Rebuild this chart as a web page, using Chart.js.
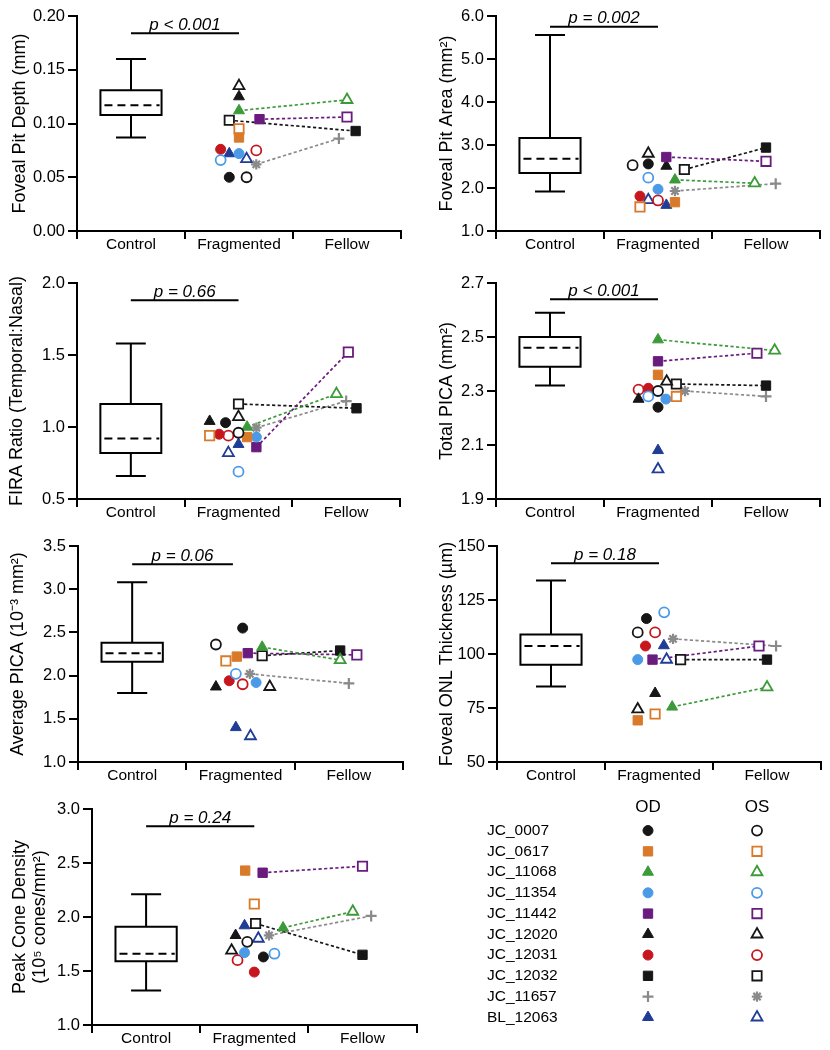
<!DOCTYPE html>
<html><head><meta charset="utf-8">
<script src="https://cdn.jsdelivr.net/npm/chart.js@4.4.1/dist/chart.umd.min.js"></script>
<style>
html,body{margin:0;padding:0;background:#fff;}
#wrap{position:relative;width:830px;height:1050px;overflow:hidden;background:#fff;}
canvas{position:absolute;}
</style></head><body><div id="wrap"></div>
<script>
// ---------- shared data ----------
const categories = ['Control', 'Fragmented', 'Fellow'];
const subjects = ['JC_0007','JC_0617','JC_11068','JC_11354','JC_11442','JC_12020','JC_12031','JC_12032','JC_11657','BL_12063'];
const eyeLabels = ['OD', 'OS'];
const fellowEye = ['', '', 'OS', '', 'OS', '', '', 'OD', 'OD', ''];

// ---------- Foveal Pit Depth ----------
const depthTicks = [0.00, 0.05, 0.10, 0.15, 0.20];
const depthControl = [0.087, 0.108, 0.117, 0.131, 0.160]; // min, q1, median, q3, max
const depthOD = [0.050, 0.087, 0.112, 0.072, 0.104, 0.125, 0.076, 0.093, 0.086, 0.072];
const depthOS = [0.050, 0.095, 0.122, 0.066, 0.106, 0.135, 0.075, 0.103, 0.062, 0.067];
const depthODJitter = [-0.09, 0, 0, 0, 0.19, 0, -0.17, 0.08, -0.075, -0.09];
const depthOSJitter = [0.07, 0, 0, -0.17, 0, 0, 0.16, -0.09, 0.16, 0.07];
const depthP = ['p < 0.001', 0.184, 0, 1];

// ---------- Foveal Pit Area ----------
const areaTicks = [1.0, 2.0, 3.0, 4.0, 5.0, 6.0];
const areaControl = [1.92, 2.35, 2.68, 3.16, 5.56];
const areaOD = [2.56, 1.67, 2.19, 1.97, 2.72, 2.51, 1.81, 2.94, 2.10, 1.60];
const areaOS = [2.53, 1.56, 2.11, 2.24, 2.62, 2.80, 1.71, 2.43, 1.93, 1.72];
const areaODJitter = [-0.09, 0.157, 0.157, 0, 0.077, 0.077, -0.167, 0, 0.09, 0.077];
const areaOSJitter = [-0.235, -0.167, -0.105, -0.09, 0, -0.09, 0, 0.244, 0.157, -0.09];
const areaP = ['p = 0.002', 5.75, 0, 1];

// ---------- FIRA Ratio ----------
const firaTicks = [0.5, 1.0, 1.5, 2.0];
const firaControl = [0.66, 0.82, 0.92, 1.16, 1.58];
const firaOD = [1.03, 0.93, 1.00, 0.93, 0.86, 1.04, 0.95, 1.13, 1.18, 0.88];
const firaOS = [0.96, 0.94, 1.23, 0.69, 1.52, 1.07, 0.94, 1.16, 0.995, 0.82];
const firaODJitter = [-0.12, 0.08, 0.08, 0.166, 0.166, -0.268, -0.18, 0.096, 0, 0];
const firaOSJitter = [0, -0.268, -0.09, 0, 0.02, 0, -0.094, 0, 0.166, -0.094];
const firaP = ['p = 0.66', 1.88, 0, 1];

// ---------- Total PICA ----------
const totalTicks = [1.9, 2.1, 2.3, 2.5, 2.7];
const totalControl = [2.32, 2.39, 2.46, 2.50, 2.59];
const totalOD = [2.24, 2.36, 2.49, 2.27, 2.41, 2.27, 2.31, 2.32, 2.28, 2.08];
const totalOS = [2.30, 2.28, 2.45, 2.28, 2.44, 2.335, 2.305, 2.326, 2.30, 2.01];
const totalODJitter = [0, 0, 0, 0.073, 0, -0.18, -0.09, 0, 0, 0];
const totalOSJitter = [0, 0.17, 0.08, -0.09, -0.084, 0.08, -0.18, 0.17, 0.25, 0];
const totalP = ['p < 0.001', 2.64, 0, 1];

// ---------- Average PICA ----------
const avgTicks = [1.0, 1.5, 2.0, 2.5, 3.0, 3.5];
const avgControl = [1.80, 2.16, 2.26, 2.38, 3.08];
const avgOD = [2.55, 2.22, 2.33, 1.92, 2.26, 1.87, 1.94, 2.29, 1.91, 1.40];
const avgOS = [2.36, 2.17, 2.18, 2.02, 2.24, 1.87, 1.90, 2.23, 2.02, 1.30];
const avgODJitter = [0.02, -0.034, 0.2, 0.144, 0.067, -0.227, -0.104, -0.08, 0, -0.043];
const avgOSJitter = [-0.227, -0.135, -0.08, -0.043, 0.074, 0.27, 0.02, 0.2, 0.086, 0.092];
const avgP = ['p = 0.06', 3.29, 0, 0.93];

// ---------- Foveal ONL Thickness ----------
const onlTicks = [50, 75, 100, 125, 150];
const onlControl = [85, 95, 103.7, 109, 134];
const onlOD = [116.4, 69.3, 75.5, 97.4, 97.4, 81.8, 103.7, 97.4, 103.7, 103.9];
const onlOS = [110, 72.2, 84.6, 119.3, 103.7, 74.4, 110, 97.4, 107, 97.4];
const onlODJitter = [-0.116, -0.197, 0.122, -0.197, -0.06, -0.036, -0.125, 0, 0.084, 0.045];
const onlOSJitter = [-0.197, -0.036, 0, 0.048, -0.074, -0.197, -0.036, 0.2, 0.13, 0.07];
const onlP = ['p = 0.18', 142, 0, 1];

// ---------- Peak Cone Density ----------
const coneTicks = [1.0, 1.5, 2.0, 2.5, 3.0];
const coneControl = [1.32, 1.59, 1.66, 1.91, 2.21];
const coneOD = [1.63, 2.43, 1.90, 1.67, 2.41, 1.83, 1.49, 1.65, 2.01, 1.92];
const coneOS = [1.77, 2.12, 2.05, 1.66, 2.47, 1.69, 1.60, 1.94, 1.83, 1.80];
const coneODJitter = [0.084, -0.084, 0.266, -0.09, 0.077, -0.173, 0, 0, 0.08, -0.09];
const coneOSJitter = [-0.065, 0, -0.09, 0.186, 0, -0.21, -0.155, 0.012, 0.136, 0.037];
const coneP = ['p = 0.24', 2.84, 0, 1];

// ---------- styles ----------
const subjectColors = ['#161616','#D97A2B','#3C9A38','#4B9AE8','#6A1B7E','#161616','#C7171E','#161616','#8A8A8A','#1F3C96'];
const odStyles = ['circle','rect','triangle','circle','rect','triangle','circle','rect','cross','triangle'];
const osStyles = ['circle','rect','triangle','circle','rect','triangle','circle','rect','star','triangle'];
const styleRadius = {circle: 5, rect: 6.6, triangle: 6.3, cross: 5.5, star: 5.2};

Chart.defaults.font.family = '"Liberation Sans", Arial, Helvetica, sans-serif';
Chart.defaults.color = '#000';

function marker(i, eye) {
  const st = eye === 'OD' ? odStyles[i] : osStyles[i];
  const col = subjectColors[i];
  const filled = eye === 'OD' && st !== 'cross';
  const lineLike = st === 'cross' || st === 'star';
  return {
    pointStyle: st,
    pointRadius: styleRadius[st],
    pointBackgroundColor: filled ? col : '#ffffff',
    pointBorderColor: col,
    pointBorderWidth: filled ? 1 : (lineLike ? 2.2 : 1.8),
    pointHoverRadius: styleRadius[st]
  };
}

const boxSigPlugin = {
  id: 'boxsig',
  beforeDatasetsDraw(chart, args, opts) {
    if (!opts || !opts.box) return;
    const ctx = chart.ctx, xs = chart.scales.x, ys = chart.scales.y;
    const [mn, q1, med, q3, mx] = opts.box;
    const cx = xs.getPixelForValue(0);
    const hb = xs.getPixelForValue(0.283) - cx;
    const hc = xs.getPixelForValue(0.139) - cx;
    const Y = v => ys.getPixelForValue(v);
    ctx.save();
    ctx.strokeStyle = '#000';
    ctx.lineWidth = 2;
    ctx.beginPath();
    ctx.rect(cx - hb, Y(q3), 2 * hb, Y(q1) - Y(q3));
    ctx.moveTo(cx, Y(q3)); ctx.lineTo(cx, Y(mx));
    ctx.moveTo(cx - hc, Y(mx)); ctx.lineTo(cx + hc, Y(mx));
    ctx.moveTo(cx, Y(q1)); ctx.lineTo(cx, Y(mn));
    ctx.moveTo(cx - hc, Y(mn)); ctx.lineTo(cx + hc, Y(mn));
    ctx.stroke();
    ctx.beginPath();
    ctx.setLineDash([8, 5]);
    ctx.moveTo(cx - hb + 4, Y(med)); ctx.lineTo(cx + hb - 2, Y(med));
    ctx.stroke();
    ctx.setLineDash([]);
    // significance bar
    const [txt, pv, x0, x1] = opts.sig;
    const px0 = xs.getPixelForValue(x0), px1 = xs.getPixelForValue(x1), py = Y(pv);
    ctx.beginPath();
    ctx.moveTo(px0, py); ctx.lineTo(px1, py);
    ctx.stroke();
    ctx.fillStyle = '#000';
    ctx.font = 'italic 17px "Liberation Sans", Arial, sans-serif';
    ctx.textAlign = 'center';
    ctx.textBaseline = 'alphabetic';
    ctx.fillText(txt, (px0 + px1) / 2, py - 3.5);
    ctx.restore();
  }
};
Chart.register(boxSigPlugin);

const wrap = document.getElementById('wrap');
function addCanvas(l, t, w, h) {
  const c = document.createElement('canvas');
  c.width = w; c.height = h;
  c.style.left = l + 'px'; c.style.top = t + 'px';
  c.style.width = w + 'px'; c.style.height = h + 'px';
  wrap.appendChild(c);
  return c;
}

function makePanel(p) {
  const c = addCanvas(p.left, p.top, p.w, p.h);
  const datasets = [];
  const pt = (i, eye) => {
    const vals = eye === 'OD' ? p.od : p.os;
    const jit = eye === 'OD' ? p.odJ : p.osJ;
    const base = fellowEye[i] === eye ? 2 : 1;
    return {x: base + jit[i], y: vals[i]};
  };
  subjects.forEach((s, i) => {
    eyeLabels.forEach(eye => {
      datasets.push(Object.assign({label: s + ' ' + eye, data: [pt(i, eye)], order: 0}, marker(i, eye)));
    });
    if (fellowEye[i]) {
      const fe = fellowEye[i], ge = fe === 'OD' ? 'OS' : 'OD';
      datasets.push({label: s + ' pair', data: [pt(i, ge), pt(i, fe)], showLine: true,
        borderColor: subjectColors[i], borderWidth: 1.7, borderDash: [3.2, 2.4],
        pointRadius: 0, pointHoverRadius: 0, order: 1});
    }
  });
  const ticks = p.ticks;
  new Chart(c, {
    type: 'scatter',
    data: {labels: categories, datasets},
    options: {
      responsive: false, animation: false, devicePixelRatio: 1, events: [],
      layout: {padding: {left: 0, top: p.padTop, right: p.padRight, bottom: 0}},
      plugins: {legend: {display: false}, tooltip: {enabled: false},
        boxsig: {box: p.box, sig: p.sig}},
      scales: {
        x: {type: 'linear', display: false, min: -0.5, max: 2.5},
        xc: {type: 'category', axis: 'x', position: 'bottom', labels: categories, offset: true,
          grid: {offset: true, drawOnChartArea: false, drawTicks: true, tickLength: 8, color: '#000', lineWidth: 2},
          border: {display: true, color: '#000', width: 2},
          ticks: {font: {size: 15.5}, color: '#000', padding: -4, maxRotation: 0, autoSkip: false},
          afterFit(s) { s.height = p.xh; }},
        y: {type: 'linear', position: 'left', min: ticks[0], max: ticks[ticks.length - 1],
          afterBuildTicks(s) { s.ticks = ticks.map(v => ({value: v})); },
          ticks: {font: {size: 16.5}, color: '#000', padding: 3, callback: v => Number(v).toFixed(p.dec)},
          grid: {drawOnChartArea: false, drawTicks: true, tickLength: 9, color: '#000', lineWidth: 2},
          border: {display: true, color: '#000', width: 2},
          title: {display: true, text: p.title, color: '#000',
            font: {size: 18, lineHeight: p.titleLH || 1.2}, padding: {top: p.titlePad, bottom: 0}},
          afterFit(s) { s.width = p.yw; }}
      }
    }
  });
}

const panels = [
  {left: 0, top: 0, w: 415, h: 262, yw: 77, padTop: 16, padRight: 14, xh: 31, titlePad: 9,
   title: 'Foveal Pit Depth (mm)', ticks: depthTicks, dec: 2, box: depthControl, sig: depthP,
   od: depthOD, os: depthOS, odJ: depthODJitter, osJ: depthOSJitter},
  {left: 427, top: 0, w: 403, h: 262, yw: 69, padTop: 16, padRight: 10, xh: 31, titlePad: 9,
   title: 'Foveal Pit Area (mm\u00B2)', ticks: areaTicks, dec: 1, box: areaControl, sig: areaP,
   od: areaOD, os: areaOS, odJ: areaODJitter, osJ: areaOSJitter},
  {left: 0, top: 265, w: 415, h: 262, yw: 77, padTop: 18, padRight: 15, xh: 28, titlePad: 6,
   title: 'FIRA Ratio (Temporal:Nasal)', ticks: firaTicks, dec: 1, box: firaControl, sig: firaP,
   od: firaOD, os: firaOS, odJ: firaODJitter, osJ: firaOSJitter},
  {left: 427, top: 265, w: 403, h: 262, yw: 69, padTop: 18, padRight: 10, xh: 28, titlePad: 9,
   title: 'Total PICA (mm\u00B2)', ticks: totalTicks, dec: 1, box: totalControl, sig: totalP,
   od: totalOD, os: totalOS, odJ: totalODJitter, osJ: totalOSJitter},
  {left: 0, top: 528, w: 415, h: 262, yw: 78, padTop: 18, padRight: 12, xh: 28, titlePad: 7,
   title: 'Average PICA (10\u207B\u00B3 mm\u00B2)', ticks: avgTicks, dec: 1, box: avgControl, sig: avgP,
   od: avgOD, os: avgOS, odJ: avgODJitter, osJ: avgOSJitter},
  {left: 427, top: 528, w: 403, h: 262, yw: 70, padTop: 18, padRight: 9, xh: 28, titlePad: 9,
   title: 'Foveal ONL Thickness (\u00B5m)', ticks: onlTicks, dec: 0, box: onlControl, sig: onlP,
   od: onlOD, os: onlOS, odJ: onlODJitter, osJ: onlOSJitter},
  {left: 0, top: 790, w: 425, h: 258, yw: 92, padTop: 19, padRight: 8, xh: 23, titlePad: 10, titleLH: 1.1,
   title: ['Peak Cone Density', '(10\u2075 cones/mm\u00B2)'], ticks: coneTicks, dec: 1, box: coneControl, sig: coneP,
   od: coneOD, os: coneOS, odJ: coneODJitter, osJ: coneOSJitter}
];
panels.forEach(makePanel);

// ---------- legend table ----------
(function () {
  const c = addCanvas(470, 790, 360, 250);
  const datasets = [];
  subjects.forEach((s, i) => {
    eyeLabels.forEach(eye => {
      datasets.push(Object.assign({label: s + ' ' + eye, data: [{x: eye, y: s}]}, marker(i, eye)));
    });
  });
  new Chart(c, {
    type: 'scatter',
    data: {datasets},
    options: {
      responsive: false, animation: false, devicePixelRatio: 1, events: [],
      layout: {padding: {left: 17, top: 0, right: 18.5, bottom: 3.8}},
      plugins: {legend: {display: false}, tooltip: {enabled: false}},
      scales: {
        x: {type: 'category', position: 'top', labels: eyeLabels, offset: true,
          grid: {display: false, drawTicks: false}, border: {display: false},
          ticks: {font: {size: 17}, color: '#000', padding: 3},
          afterFit(s) { s.height = 30.2; }},
        y: {type: 'category', position: 'left', labels: subjects, offset: true,
          grid: {display: false, drawTicks: false}, border: {display: false},
          ticks: {font: {size: 15.5}, color: '#000', crossAlign: 'far', autoSkip: false},
          afterFit(s) { s.width = 106.5; }}
      }
    }
  });
})();
</script>
</body></html>
